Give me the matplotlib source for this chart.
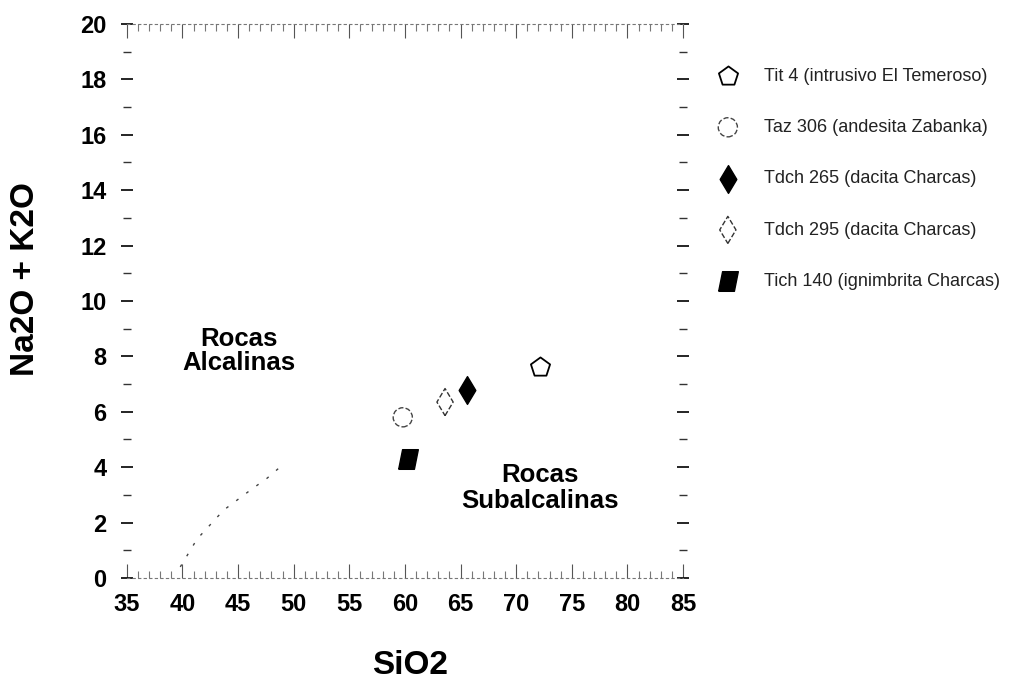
import matplotlib.pyplot as plt
import numpy as np

# TAS style diagram, Charcas samples
samples = ['Tit 4 (intrusivo El Temeroso)',
           'Taz 306 (andesita Zabanka)',
           'Tdch 265 (dacita Charcas)',
           'Tdch 295 (dacita Charcas)',
           'Tich 140 (ignimbrita Charcas)']
sio2 = [72.1, 59.8, 65.6, 63.6, 60.3]
alk = [7.6, 5.8, 6.8, 6.35, 4.3]

# alkaline / subalkaline divide
div_x = [39.8, 41.3, 43.7, 46.2, 47.6, 49.2]
div_y = [0.4, 1.4, 2.45, 3.2, 3.6, 4.15]

x_ticks = [35, 40, 45, 50, 55, 60, 65, 70, 75, 80, 85]
y_ticks = [0, 2, 4, 6, 8, 10, 12, 14, 16, 18, 20]

plt.rcParams['font.family'] = ['Liberation Sans', 'DejaVu Sans']

fig = plt.figure(figsize=(10.15, 6.84), dpi=100)
ax = fig.add_axes([0.125, 0.155, 0.548, 0.81])

parallelogram = [(-1, -1), (0.6, -1), (1, 1), (-0.6, 1), (-1, -1)]
styles = [
    dict(marker='p', s=210, facecolor='white', edgecolor='black', linewidths=1.3),
    dict(marker='o', s=190, facecolor='white', edgecolor='#444444', linewidths=1.0,
         linestyle='--'),
    dict(marker='d', s=200, facecolor='black', edgecolor='black', linewidths=1.0),
    dict(marker='d', s=190, facecolor='white', edgecolor='#333333', linewidths=1.0,
         linestyle='--'),
    dict(marker=parallelogram, s=200, facecolor='black', edgecolor='black',
         linewidths=1.0),
]
handles = []
for name, x, y, st in zip(samples, sio2, alk, styles):
    h = ax.scatter([x], [y], label=name, zorder=3, **st)
    handles.append(h)

ax.plot(div_x, div_y, color='#444444', lw=1.0, linestyle=(0, (2, 7)))

ax.text(45.1, 8.2, 'Rocas\nAlcalinas', ha='center', va='center',
        fontsize=18.5, fontweight='bold', linespacing=1.0)
ax.text(72.1, 3.25, 'Rocas\nSubalcalinas', ha='center', va='center',
        fontsize=18.5, fontweight='bold', linespacing=1.1)

ax.set_xlim(35, 85)
ax.set_ylim(0, 20)
ax.set_xticks(x_ticks)
ax.set_yticks(y_ticks)
ax.set_xticks(np.arange(36, 85, 1), minor=True)
ax.set_yticks(np.arange(1, 20, 2), minor=True)

for s in ['left', 'right']:
    ax.spines[s].set_visible(False)
for s in ['top', 'bottom']:
    ax.spines[s].set_color('#777777')
    ax.spines[s].set_linestyle((0, (2, 3)))
    ax.spines[s].set_linewidth(0.8)

ax.tick_params(axis='y', which='major', direction='inout', length=9, width=1.2,
               labelsize=17, pad=10, right=True, colors='black')
ax.tick_params(axis='y', which='minor', direction='inout', length=6, width=1.0,
               right=True, color='#333333')
ax.tick_params(axis='x', which='major', direction='in', length=10, width=0.8,
               labelsize=17, pad=11, top=True, color='#555555')
ax.tick_params(axis='x', which='minor', direction='in', length=5, width=0.8,
               top=True, color='#777777')
for lbl in ax.get_xticklabels() + ax.get_yticklabels():
    lbl.set_fontweight('bold')

ax.set_xlabel('SiO2', fontsize=24, fontweight='bold')
ax.set_ylabel('Na2O + K2O', fontsize=24, fontweight='bold')
ax.xaxis.set_label_coords(0.509, -0.13)
ax.yaxis.set_label_coords(-0.155, 0.54)

leg = ax.legend(handles=handles, loc='upper left', bbox_to_anchor=(1.035, 0.934),
                frameon=False, fontsize=13, labelspacing=1.9, handletextpad=1.0,
                borderaxespad=0, scatterpoints=1)
for t in leg.get_texts():
    t.set_color('#222222')

fig.savefig('out.png', dpi=100)
